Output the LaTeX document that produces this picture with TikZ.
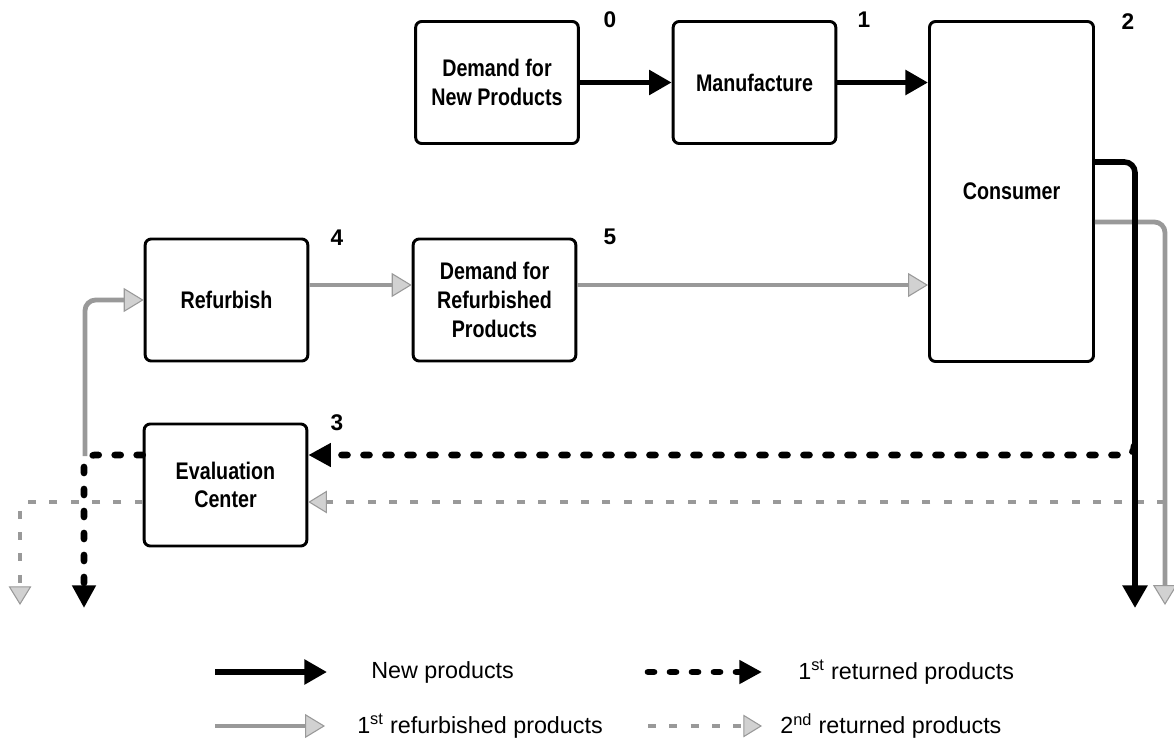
\documentclass[tikz,border=0pt]{standalone}
\usepackage{fontspec}
\setmainfont{Liberation Sans}
\newfontfamily\boxfont{Liberation Sans Bold}[FakeStretch=0.82]
\usetikzlibrary{arrows.meta,calc}
\tikzset{
 box/.style={draw, line width=2.2pt, rounded corners=4.5pt, fill=white, inner sep=0pt, align=center,
   minimum width=122pt, minimum height=91.5pt, font=\boxfont\fontsize{18}{21.5}\selectfont},
 num/.style={font=\bfseries\fontsize{17}{19}\selectfont, inner sep=0pt},
 lgd/.style={font=\fontsize{17.5}{20}\selectfont, anchor=west, inner sep=0pt},
 newflow/.style={line width=4.2pt, -{Triangle[length=17pt,width=18pt]}},
 ret1flow/.style={line width=5pt, line cap=round, dash pattern=on 4.5pt off 12pt, -{Triangle[length=17pt,width=17pt]}},
 refflow/.style={draw=black!40, line width=3.6pt, -{Triangle[length=15pt,width=18pt,fill=black!18,line width=0.8pt]}},
 ret2flow/.style={draw=black!40, line width=3pt, dash pattern=on 6pt off 10pt, -{Triangle[length=14pt,width=17pt,fill=black!18,line width=0.8pt]}},
}
\begin{document}
\begin{tikzpicture}[x=0.75pt,y=-0.75pt]
\useasboundingbox (0,0) rectangle (1174,739);

% boxes
\node[box] (dnp) at (497,82.5) {Demand for\\New Products};
\node[box] (man) at (754.5,82.5) {Manufacture};
\node[box, minimum width=123pt, minimum height=255pt] (con) at (1011.5,191.5) {Consumer};
\node[box] (ref) at (226.5,300) {Refurbish};
\node[box] (drp) at (494.5,300) {Demand for\\Refurbished\\Products};
\node[box] (ev) at (225.5,485) {Evaluation\\Center};

% numbers
\node[num] (n0) at (610,20) {0};
\node[num] (n1) at (864,20) {1};
\node[num] (n2) at (1128,22) {2};
\node[num] (n4) at (337,238) {4};
\node[num] (n5) at (610,237) {5};
\node[num] (n3) at (337,423) {3};

% coordinates
\coordinate (blackdown) at (1135,608);
\coordinate (graydown) at (1165,605);
\coordinate (dS) at (1134,446);
\coordinate (dL) at (84,608);
\coordinate (gS) at (85,456);
\coordinate (gR) at (1165,502);
\coordinate (gL) at (20,605);

% gray flows
\draw[refflow, rounded corners=8pt] ($(con.east)+(0,30.5)$) -| (graydown);
\draw[ret2flow] (gR) -- ($(ev.east)+(0,17)$);
\draw[ret2flow, rounded corners=6pt] ($(ev.west)+(0,17)$) -| (gL);
\draw[refflow, rounded corners=8pt] (gS) |- (ref.west);
\draw[refflow] ($(ref.east)+(0,-15)$) -- ($(drp.west)+(0,-15)$);
\draw[refflow] ($(drp.east)+(0,-15)$) -- ($(con.west |- drp.east)+(0,-15)$);

% black flows
\draw[newflow] (dnp.east) -- (man.west);
\draw[newflow] (man.east) -- (con.west |- man.east);
\draw[newflow, rounded corners=8pt] ($(con.east)+(0,-29.5)$) -| (blackdown);
\draw[ret1flow, rounded corners=6pt] (dS) |- ($(ev.east)+(0,-30)$);
\draw[ret1flow, rounded corners=8pt] ($(ev.west)+(0,-30)$) -| (dL);

% legend
\coordinate (l1a) at (215,672); \coordinate (l1b) at (327,672);
\coordinate (l2a) at (648,672); \coordinate (l2b) at (762,672);
\coordinate (l3a) at (215,726); \coordinate (l3b) at (325,726);
\coordinate (l4a) at (648,726); \coordinate (l4b) at (762,726);
\draw[newflow] (l1a) -- (l1b);
\draw[ret1flow] (l2a) -- (l2b);
\draw[refflow] (l3a) -- (l3b);
\draw[ret2flow] (l4a) -- (l4b);
\node[lgd] (t1) at (371,672) {New products};
\node[lgd] (t2) at (798,672) {1\textsuperscript{st} returned products};
\node[lgd] (t3) at (357,726) {1\textsuperscript{st} refurbished products};
\node[lgd] (t4) at (780,726) {2\textsuperscript{nd} returned products};
\end{tikzpicture}
\end{document}
